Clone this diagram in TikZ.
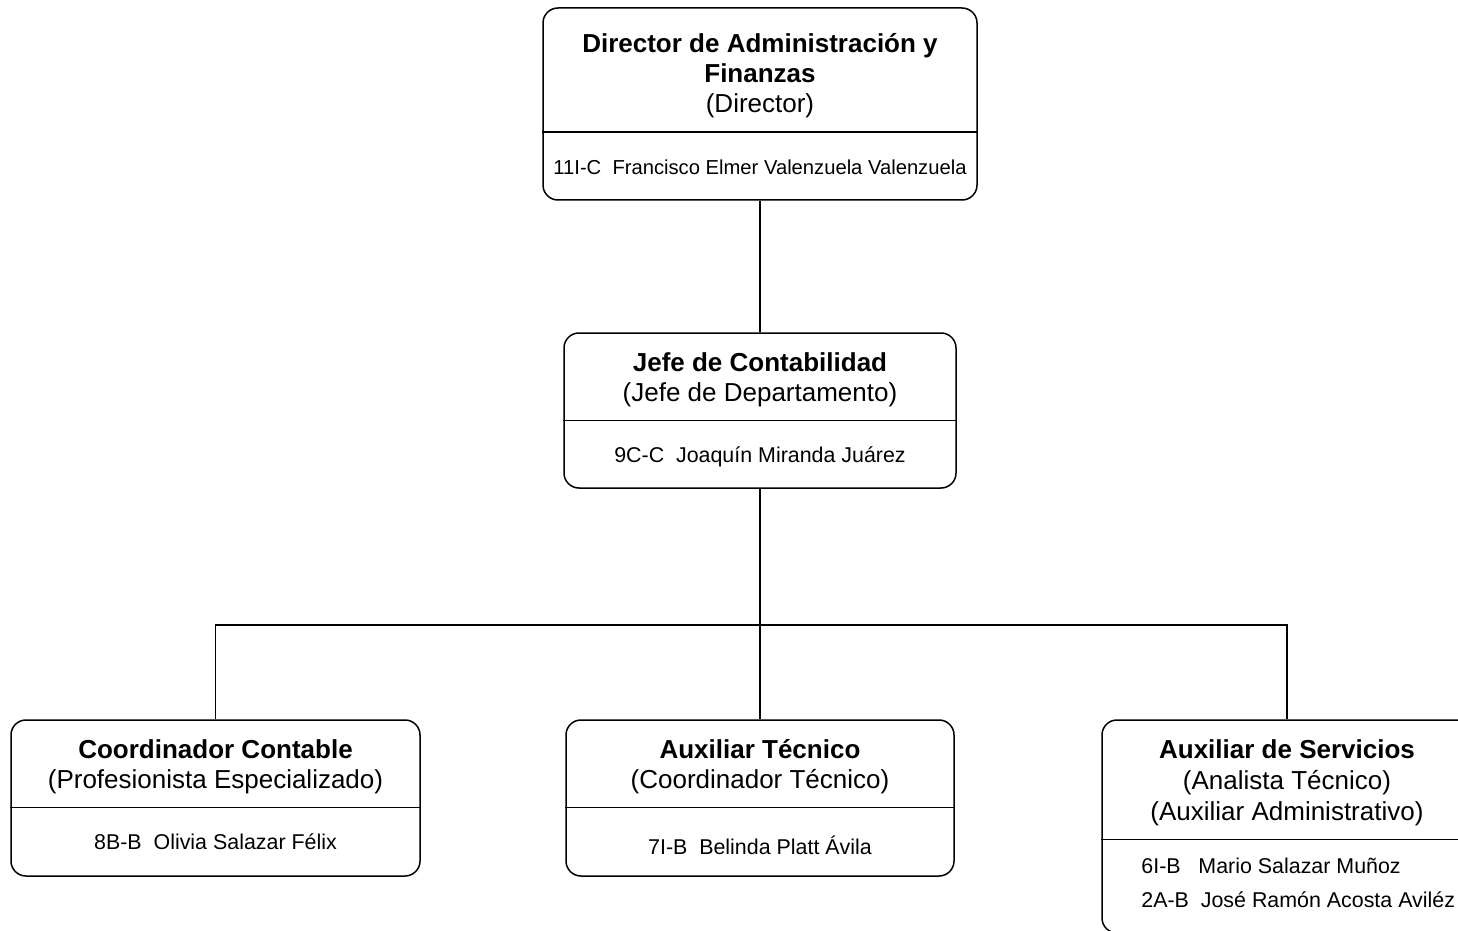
\documentclass[tikz,border=0pt]{standalone}
\usepackage{fontspec}
\setmainfont{Liberation Sans}
\usepackage{tikz}
\tikzset{
  caja/.style={draw, rounded corners=7.5pt, line width=0.75pt, inner sep=0pt},
  cargo/.style={align=center, font=\fontsize{13}{15}\selectfont, inner sep=0pt},
  nombre/.style={font=\fontsize{10.7}{17}\selectfont, inner sep=0pt},
  linea/.style={line width=0.75pt},
}
\begin{document}
\begin{tikzpicture}[x=0.5pt,y=-0.5pt]
\useasboundingbox (0,0) rectangle (1458,931);
\clip (0,0) rectangle (1458,931);
% cajas
\node [caja, minimum width=217pt, minimum height=96pt] (dir) at (760,104) {};
\node [caja, minimum width=196pt, minimum height=77.5pt] (jefe) at (760,410.5) {};
\node [caja, minimum width=204.5pt, minimum height=78pt] (coor) at (215.5,798) {};
\node [caja, minimum width=194pt, minimum height=78pt] (aux) at (760,798) {};
\node [caja, minimum width=185pt, minimum height=106.5pt] (serv) at (1287,826.5) {};
% divisiones
\draw [linea] ([yshift=-62.5pt]dir.north west) -- ([yshift=-62.5pt]dir.north east);
\draw [linea] ([yshift=-44pt]jefe.north west) -- ([yshift=-44pt]jefe.north east);
\draw [linea] ([yshift=-44pt]coor.north west) -- ([yshift=-44pt]coor.north east);
\draw [linea] ([yshift=-44pt]aux.north west) -- ([yshift=-44pt]aux.north east);
\draw [linea] ([yshift=-60pt]serv.north west) -- ([yshift=-60pt]serv.north east);
% textos
\node [cargo] (dirt) at (760,75.5) {\textbf{Director de Administración y}\\\textbf{Finanzas}\\(Director)};
\node [nombre, font=\fontsize{10.1}{17}\selectfont] (dirn) at (760,167) {11I-C\ \ Francisco Elmer Valenzuela Valenzuela};
\node [cargo] (jefet) at (760,380) {\textbf{Jefe de Contabilidad}\\(Jefe de Departamento)};
\node [nombre] (jefen) at (760,457) {9C-C\ \ Joaquín Miranda Juárez};
\node [cargo] (coort) at (215.5,767) {\textbf{Coordinador Contable}\\(Profesionista Especializado)};
\node [nombre] (coorn) at (215.5,842) {8B-B\ \ Olivia Salazar Félix};
\node [cargo] (auxt) at (760,767) {\textbf{Auxiliar Técnico}\\(Coordinador Técnico)};
\node [nombre] (auxn) at (760,845) {7I-B\ \ Belinda Platt Ávila};
\node [cargo, font=\fontsize{13}{15.5}\selectfont] (servt) at (1287,782.5) {\textbf{Auxiliar de Servicios}\\(Analista Técnico)\\(Auxiliar Administrativo)};
\node [nombre, align=left, anchor=west] (servn) at (1141,883) {6I-B\ \ \ Mario Salazar Muñoz\\2A-B\ \ José Ramón Acosta Aviléz};
% conectores
\coordinate (bus) at (760,625);
\draw [linea] (dir) -- (jefe);
\draw [linea] (jefe) -- (aux);
\draw [linea] (coor.north) |- (bus) -| (serv.north);
\end{tikzpicture}
\end{document}
